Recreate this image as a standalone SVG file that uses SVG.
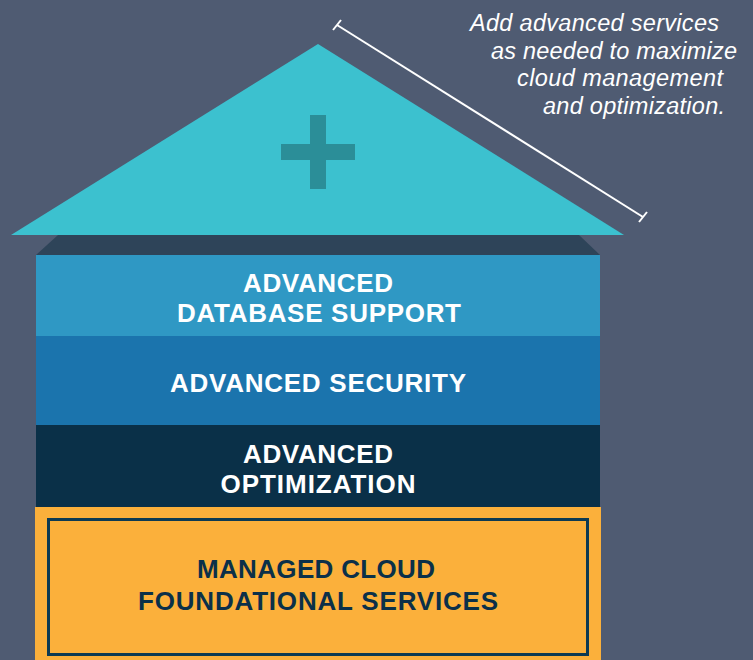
<svg xmlns="http://www.w3.org/2000/svg" width="753" height="660" viewBox="0 0 753 660">
<style>
.lbl{font-family:"Liberation Sans",Arial,Helvetica,sans-serif;font-weight:700;font-size:26px;text-anchor:middle}
.w{fill:#ffffff}
.d{fill:#0b3049}
.note{font-family:"Liberation Sans",Arial,Helvetica,sans-serif;font-style:italic;font-size:23.5px;fill:#ffffff}
</style>
<rect x="0" y="0" width="753" height="660" fill="#4f5b72"/>
<g id="roof">
<polygon points="318,44 624,235 11,235" fill="#3cc1cf"/>
<rect x="310" y="115" width="16" height="74" fill="#2b8e98"/>
<rect x="281" y="144" width="74" height="16" fill="#2b8e98"/>
</g>
<g id="eave">
<polygon points="58,235 579,235 600,255 36,255" fill="#2e4459"/>
</g>
<g id="layer-database">
<rect x="36" y="255" width="564" height="81" fill="#2f98c4"/>
<text class="lbl w" x="318" y="292" textLength="150" lengthAdjust="spacing">ADVANCED</text>
<text class="lbl w" x="319" y="322" textLength="284" lengthAdjust="spacing">DATABASE SUPPORT</text>
</g>
<g id="layer-security">
<rect x="36" y="336" width="564" height="89" fill="#1b74ad"/>
<text class="lbl w" x="318" y="392" textLength="296" lengthAdjust="spacing">ADVANCED SECURITY</text>
</g>
<g id="layer-optimization">
<rect x="36" y="425" width="564" height="82" fill="#0a3048"/>
<text class="lbl w" x="318" y="463" textLength="150" lengthAdjust="spacing">ADVANCED</text>
<text class="lbl w" x="318" y="493" textLength="195" lengthAdjust="spacing">OPTIMIZATION</text>
</g>
<g id="layer-foundation">
<rect x="35" y="507" width="566" height="153" fill="#fbb03b"/>
<rect x="48.5" y="519.5" width="539" height="135" fill="none" stroke="#0d3a52" stroke-width="3"/>
<text class="lbl d" x="316" y="578" textLength="238" lengthAdjust="spacing">MANAGED CLOUD</text>
<text class="lbl d" x="318" y="610" textLength="360" lengthAdjust="spacing">FOUNDATIONAL SERVICES</text>
</g>
<g id="connectors" stroke="#ffffff" stroke-width="2" fill="none">
<line x1="337" y1="25" x2="643" y2="217"/>
<line x1="333" y1="30" x2="341" y2="20"/>
<line x1="639" y1="222" x2="647" y2="212"/>
</g>
<g id="note">
<text class="note" x="470" y="31" textLength="249" lengthAdjust="spacing">Add advanced services</text>
<text class="note" x="491" y="58.5" textLength="246" lengthAdjust="spacing">as needed to maximize</text>
<text class="note" x="517" y="86" textLength="206" lengthAdjust="spacing">cloud management</text>
<text class="note" x="543" y="113.5" textLength="182" lengthAdjust="spacing">and optimization.</text>
</g>
</svg>
